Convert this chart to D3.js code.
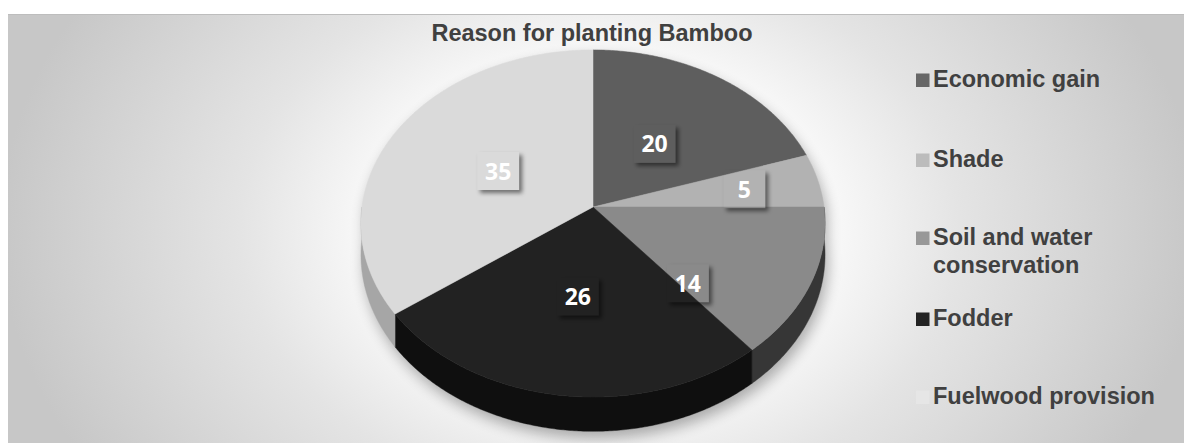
<!DOCTYPE html>
<html><head><meta charset="utf-8">
<script src="https://cdn.jsdelivr.net/npm/d3@7"></script>
<style>html,body{margin:0;padding:0;background:#fff;}svg{display:block;}</style>
</head><body>
<svg id="chart" width="1184" height="443"></svg>
<script>
const categories = ["Economic gain", "Shade", "Soil and water conservation", "Fodder", "Fuelwood provision"];
const values = [20, 5, 14, 26, 35];
const legendLines = [["Economic gain"], ["Shade"], ["Soil and water", "conservation"], ["Fodder"], ["Fuelwood provision"]];
const title = "Reason for planting Bamboo";

const topColors = ["#5e5e5e", "#b2b2b2", "#8a8a8a", "#222222", "#dadada"];
const sideColors = ["#3a3a3a", "#6c6c6c", "#363636", "#0f0f0f", "#a6a6a6"];
const legendColors = ["#676767", "#bcbcbc", "#989898", "#232323", "#e6e6e6"];
// label placement: radius fraction and angle shift (deg) for each slice
const labelRadius = [0.47, 0.67, 0.58, 0.5, 0.47];
const labelShift = [0, 0, 22, 0, 0];

const W = 1184, H = 443;
const svg = d3.select("#chart");
const defs = svg.append("defs");

const rg = defs.append("radialGradient").attr("id", "bg").attr("gradientUnits", "userSpaceOnUse")
  .attr("cx", 600).attr("cy", 230).attr("r", 600)
  .attr("gradientTransform", "translate(600,230) scale(1,0.75) translate(-600,-230)");
[[0, "#ffffff"], [0.35, "#fcfcfc"], [0.6, "#e4e4e4"], [0.85, "#d2d2d2"], [1, "#c7c7c7"]]
  .forEach(([o, c]) => rg.append("stop").attr("offset", o).attr("stop-color", c));

const sh = defs.append("filter").attr("id", "pieShadow").attr("x", "-20%").attr("y", "-20%").attr("width", "140%").attr("height", "140%");
sh.append("feGaussianBlur").attr("stdDeviation", 7);

const bs = defs.append("filter").attr("id", "boxShadow").attr("x", "-50%").attr("y", "-50%").attr("width", "200%").attr("height", "200%");
bs.append("feGaussianBlur").attr("in", "SourceAlpha").attr("stdDeviation", 2.2).attr("result", "b");
bs.append("feOffset").attr("in", "b").attr("dx", 3).attr("dy", 3).attr("result", "o");
bs.append("feComposite").attr("in", "o").attr("in2", "SourceAlpha").attr("operator", "out").attr("result", "c");
bs.append("feComponentTransfer").attr("in", "c").append("feFuncA").attr("type", "linear").attr("slope", 0.5);

// panel
svg.append("rect").attr("x", 8).attr("y", 14).attr("width", W - 8).attr("height", H - 14).attr("fill", "url(#bg)");
svg.append("line").attr("x1", 8).attr("x2", W).attr("y1", 14.5).attr("y2", 14.5).attr("stroke", "#bdbdbd").attr("stroke-width", 1);

// projection of 3D pie
const cx = 593, cy = 207, R = 231, Ry = 172, P = 0.095, T = 31;
function proj(theta, k, h) {
  const z = -k * Math.cos(theta);
  const f = 1 / (1 - P * z);
  return [cx + R * k * Math.sin(theta) * f, cy + (Ry * z + h) * f];
}
const deg = Math.PI / 180;
const pie = d3.pie().sort(null).startAngle(0).endAngle(2 * Math.PI);
const arcs = pie(values);
const line = d3.line().curve(d3.curveLinearClosed);

function arcPoints(a0, a1, h) {
  const n = Math.max(2, Math.ceil((a1 - a0) / (0.5 * deg)));
  return d3.range(n + 1).map(i => proj(a0 + (a1 - a0) * i / n, 1, h));
}

// shadow
const outline = arcPoints(0, Math.PI / 2, 0).concat(arcPoints(Math.PI / 2, 3 * Math.PI / 2, T)).concat(arcPoints(3 * Math.PI / 2, 2 * Math.PI, 0));
svg.append("path").attr("d", line(outline)).attr("fill", "#000").attr("opacity", 0.3)
  .attr("transform", "translate(3,7)").attr("filter", "url(#pieShadow)");

// side walls (front half only, one polygon per slice)
const lo = Math.PI / 2, hi = 3 * Math.PI / 2;
const walls = arcs.map((a, i) => ({ i, a0: Math.max(a.startAngle, lo), a1: Math.min(a.endAngle, hi) }))
  .filter(w => w.a1 > w.a0);
svg.append("g").selectAll("path").data(walls).join("path")
  .attr("d", w => line(arcPoints(w.a0, w.a1, 0).concat(arcPoints(w.a0, w.a1, T).reverse())))
  .attr("fill", w => sideColors[w.i]).attr("stroke", w => sideColors[w.i]).attr("stroke-width", 0.4);

// top faces
svg.append("g").selectAll("path").data(arcs).join("path")
  .attr("d", a => line([proj(0, 0, 0)].concat(arcPoints(a.startAngle, a.endAngle, 0))))
  .attr("fill", (a, i) => topColors[i]).attr("stroke", (a, i) => topColors[i]).attr("stroke-width", 0.5);

// data labels
const lab = svg.append("g").selectAll("g").data(arcs).join("g")
  .attr("transform", (a, i) => {
    const m = (a.startAngle + a.endAngle) / 2 + labelShift[i] * deg;
    const p = proj(m, labelRadius[i], 0);
    return `translate(${p[0]},${p[1]})`;
  });
lab.append("rect").attr("x", -21).attr("y", -19).attr("width", 42).attr("height", 38)
  .attr("fill", "#000").attr("filter", "url(#boxShadow)");
lab.append("text").attr("text-anchor", "middle").attr("y", 8.5)
  .attr("font-family", "'Open Sans', sans-serif").attr("font-weight", "bold").attr("font-size", 23)
  .attr("fill", "#ffffff").text(a => a.data);

// title
svg.append("text").attr("x", 592).attr("y", 41).attr("text-anchor", "middle")
  .attr("font-family", "'Liberation Sans', Arial, sans-serif").attr("font-weight", "bold")
  .attr("font-size", 23.5).attr("fill", "#404040").text(title);

// legend
const baselines = [87, 167, 245, 326, 404];
const lg = svg.append("g").selectAll("g").data(categories).join("g")
  .attr("transform", (c, i) => `translate(916,${baselines[i]})`);
lg.append("rect").attr("x", 0).attr("y", -13.5).attr("width", 13.5).attr("height", 13.5)
  .attr("fill", (c, i) => legendColors[i]);
lg.each(function (c, i) {
  const t = d3.select(this).append("text").attr("x", 17)
    .attr("font-family", "'Liberation Sans', Arial, sans-serif").attr("font-weight", "bold")
    .attr("font-size", 23.5).attr("fill", "#404040");
  legendLines[i].forEach((s, j) => t.append("tspan").attr("x", 17).attr("dy", j ? 28 : 0).text(s));
});
</script>
</body></html>
